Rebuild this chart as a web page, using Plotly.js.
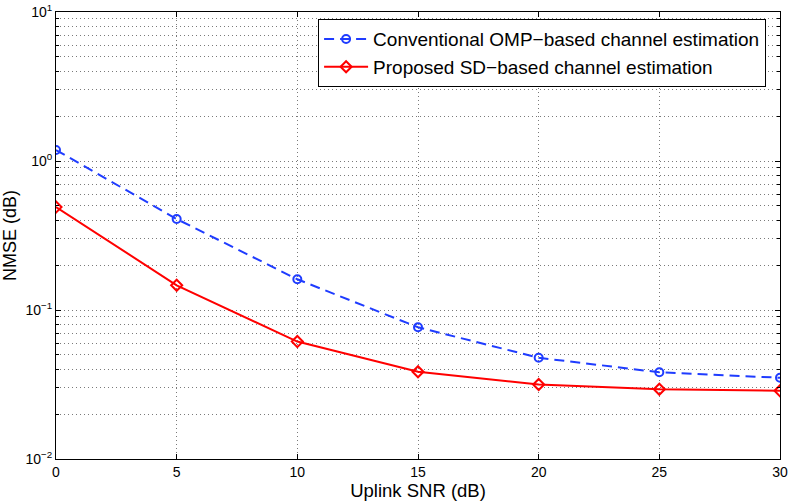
<!DOCTYPE html>
<html><head><meta charset="utf-8">
<script src="https://cdn.plot.ly/plotly-3.0.1.min.js"></script>
<style>body{margin:0;background:#fff}#g{width:789px;height:502px}</style>
</head><body><div id="g"></div>
<script>
const snr = [0, 5, 10, 15, 20, 25, 30];
const ompNmse = [1.185, 0.408, 0.1607, 0.0766, 0.0478, 0.0382, 0.0351];
const sdNmse = [0.491, 0.1465, 0.0614, 0.0385, 0.0316, 0.0294, 0.0287];
const ompName = 'Conventional OMP\u2212based channel estimation';
const sdName = 'Proposed SD\u2212based channel estimation';
const yTickVals = [0.01, 0.1, 1, 10];
const yTickText = ['10<sup>\u22122</sup>', '10<sup>\u22121</sup>', '10<sup>0</sup>', '10<sup>1</sup>'];
const xTickVals = [0, 5, 10, 15, 20, 25, 30];

const minorVals = [];
[0.01, 0.1, 1].forEach(d => { for (let m = 2; m <= 9; m++) minorVals.push(+(d * m).toPrecision(3)); });

const traces = [
  {x: snr, y: ompNmse, name: ompName, type: 'scatter', mode: 'lines+markers',
   line: {color: '#1f3cff', width: 2, dash: '10px,6px'},
   marker: {symbol: 'circle-open', size: 8, color: '#1f3cff', line: {width: 2}}},
  {x: snr, y: sdNmse, name: sdName, type: 'scatter', mode: 'lines+markers',
   line: {color: '#ff0000', width: 2},
   marker: {symbol: 'diamond-open', size: 8.5, color: '#ff0000', line: {width: 2}}}
];

const font = {family: 'Liberation Sans, Arial, sans-serif', color: '#000'};
const gridStyle = {gridcolor: '#7a7a7a', griddash: '1px,3px', gridwidth: 1};
const layout = {
  width: 789, height: 502,
  margin: {l: 56, r: 9, t: 12, b: 43},
  paper_bgcolor: '#fff', plot_bgcolor: '#fff',
  font: font,
  showlegend: true,
  legend: {x: 0.362, y: 0.984, xanchor: 'left', yanchor: 'top',
    bgcolor: '#fff', bordercolor: '#000', borderwidth: 1,
    font: {family: font.family, size: 19, color: '#000'},
    itemwidth: 44, tracegroupgap: 0},
  xaxis: Object.assign({range: [0, 30], tickmode: 'array', tickvals: xTickVals,
    ticks: 'inside', ticklen: 5, tickcolor: '#000', mirror: 'allticks',
    showline: true, linecolor: '#000', linewidth: 1,
    showgrid: true,
    zeroline: false, tickfont: {size: 14, family: font.family},
    title: {text: 'Uplink SNR (dB)', font: {size: 18.5, family: font.family}, standoff: 3}}, gridStyle),
  yaxis: Object.assign({type: 'log', range: [-2, 1], tickmode: 'array', tickvals: yTickVals, ticktext: yTickText,
    ticks: 'inside', ticklen: 5, tickcolor: '#000', mirror: 'allticks',
    showline: true, linecolor: '#000', linewidth: 1,
    showgrid: true,
    zeroline: false, tickfont: {size: 14, family: font.family},
    minor: Object.assign({tickmode: 'array', tickvals: minorVals, ticks: 'inside', ticklen: 3, tickcolor: '#000',
      showgrid: true}, gridStyle),
    title: {text: 'NMSE (dB)', font: {size: 18, family: font.family}, standoff: 6}}, gridStyle)
};
Plotly.newPlot('g', traces, layout, {staticPlot: true, displayModeBar: false});
</script></body></html>
